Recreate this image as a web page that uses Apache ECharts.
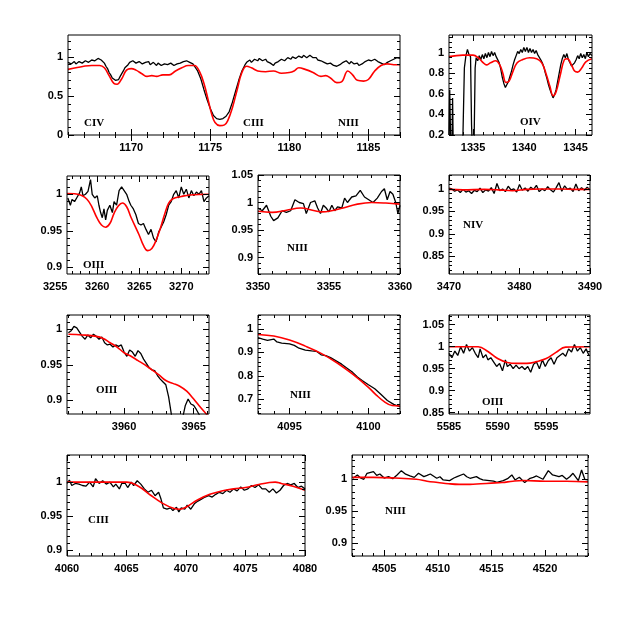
<!DOCTYPE html>
<html><head><meta charset="utf-8">
<script src="https://cdn.jsdelivr.net/npm/echarts@6/dist/echarts.min.js"></script>
<style>html,body{margin:0;padding:0;background:#fff}#c{width:623px;height:623px}</style>
</head><body><div id="c"></div><script>
// ---------- DATA ----------
const p1Obs = [[1166.0,0.93],[1166.1,0.95],[1166.2,0.91],[1166.3,0.93],[1166.4,0.94],[1166.5,0.91],[1166.6,0.92],[1166.7,0.94],[1166.8,0.95],[1166.9,0.92],[1167.0,0.93],[1167.1,0.95],[1167.2,0.96],[1167.3,0.93],[1167.4,0.94],[1167.5,0.96],[1167.6,0.97],[1167.7,0.95],[1167.8,0.96],[1167.9,0.98],[1168.0,0.98],[1168.1,0.96],[1168.2,0.95],[1168.3,0.92],[1168.4,0.88],[1168.5,0.85],[1168.6,0.80],[1168.7,0.77],[1168.8,0.73],[1168.9,0.72],[1169.0,0.70],[1169.1,0.72],[1169.2,0.71],[1169.3,0.75],[1169.4,0.77],[1169.5,0.82],[1169.6,0.86],[1169.7,0.88],[1169.8,0.90],[1169.9,0.93],[1170.0,0.92],[1170.1,0.95],[1170.2,0.94],[1170.3,0.92],[1170.4,0.91],[1170.5,0.94],[1170.6,0.93],[1170.7,0.91],[1170.8,0.90],[1170.9,0.93],[1171.0,0.92],[1171.1,0.94],[1171.2,0.90],[1171.3,0.92],[1171.4,0.93],[1171.5,0.91],[1171.6,0.89],[1171.7,0.92],[1171.8,0.91],[1171.9,0.89],[1172.0,0.88],[1172.1,0.91],[1172.2,0.92],[1172.3,0.90],[1172.4,0.89],[1172.5,0.92],[1172.6,0.91],[1172.7,0.89],[1172.8,0.88],[1172.9,0.91],[1173.0,0.90],[1173.1,0.92],[1173.2,0.91],[1173.3,0.94],[1173.4,0.93],[1173.5,0.95],[1173.6,0.95],[1173.7,0.93],[1173.8,0.92],[1173.9,0.91],[1174.0,0.88],[1174.1,0.86],[1174.2,0.82],[1174.4,0.72],[1174.6,0.58],[1174.8,0.45],[1175.0,0.34],[1175.2,0.25],[1175.4,0.21],[1175.6,0.20],[1175.8,0.21],[1176.0,0.24],[1176.2,0.30],[1176.4,0.42],[1176.6,0.56],[1176.8,0.70],[1177.0,0.82],[1177.2,0.90],[1177.3,0.93],[1177.4,0.94],[1177.5,0.96],[1177.6,0.93],[1177.7,0.95],[1177.8,0.97],[1177.9,0.96],[1178.0,0.95],[1178.1,0.98],[1178.2,0.98],[1178.3,0.95],[1178.4,0.96],[1178.5,0.97],[1178.6,0.94],[1178.7,0.93],[1178.8,0.92],[1178.9,0.90],[1179.0,0.89],[1179.1,0.92],[1179.2,0.91],[1179.3,0.94],[1179.4,0.95],[1179.5,0.97],[1179.6,0.98],[1179.7,0.95],[1179.8,0.96],[1179.9,0.99],[1180.0,0.99],[1180.1,0.97],[1180.2,1.00],[1180.3,1.01],[1180.4,0.98],[1180.5,1.00],[1180.6,1.01],[1180.7,0.99],[1180.8,0.99],[1180.9,1.02],[1181.0,1.03],[1181.1,0.99],[1181.2,1.00],[1181.3,1.02],[1181.4,1.01],[1181.5,0.99],[1181.6,0.98],[1181.7,0.99],[1181.8,0.96],[1181.9,0.97],[1182.0,0.95],[1182.1,0.94],[1182.2,0.93],[1182.3,0.94],[1182.4,0.91],[1182.5,0.93],[1182.6,0.92],[1182.7,0.90],[1182.8,0.89],[1182.9,0.91],[1183.0,0.88],[1183.1,0.89],[1183.2,0.90],[1183.3,0.92],[1183.4,0.93],[1183.5,0.92],[1183.6,0.95],[1183.7,0.93],[1183.8,0.91],[1183.9,0.94],[1184.0,0.93],[1184.1,0.91],[1184.2,0.90],[1184.3,0.92],[1184.4,0.89],[1184.5,0.90],[1184.6,0.91],[1184.7,0.93],[1184.8,0.94],[1184.9,0.93],[1185.0,0.96],[1185.1,0.94],[1185.2,0.95],[1185.3,0.97],[1185.4,0.97],[1185.5,0.95],[1185.6,0.94],[1185.7,0.95],[1185.8,0.92],[1185.9,0.93],[1186.0,0.90],[1186.1,0.92],[1186.2,0.93],[1186.3,0.91],[1186.4,0.95],[1186.5,0.94],[1186.6,0.97],[1186.7,0.96],[1186.8,0.99],[1186.9,0.97],[1187.0,0.98]];
const p1Model = [[1166,0.84],[1166.5,0.86],[1167,0.88],[1167.5,0.89],[1168,0.89],[1168.3,0.86],[1168.6,0.76],[1168.9,0.66],[1169.1,0.65],[1169.4,0.72],[1169.7,0.83],[1170,0.85],[1170.3,0.83],[1170.7,0.78],[1171,0.75],[1171.3,0.76],[1171.6,0.75],[1172,0.77],[1172.4,0.77],[1172.8,0.82],[1173.2,0.86],[1173.6,0.89],[1174,0.89],[1174.3,0.82],[1174.6,0.66],[1174.9,0.42],[1175.1,0.26],[1175.3,0.16],[1175.6,0.12],[1175.9,0.13],[1176.1,0.18],[1176.4,0.35],[1176.7,0.58],[1177,0.80],[1177.3,0.88],[1177.6,0.86],[1178,0.82],[1178.5,0.81],[1179,0.82],[1179.5,0.79],[1180,0.80],[1180.3,0.82],[1180.6,0.86],[1181,0.84],[1181.5,0.80],[1182,0.75],[1182.3,0.76],[1182.6,0.73],[1183,0.67],[1183.3,0.68],[1183.7,0.82],[1184,0.77],[1184.3,0.70],[1184.7,0.69],[1185,0.71],[1185.4,0.82],[1185.8,0.89],[1186.2,0.91],[1186.6,0.90],[1187,0.90]];

const p2Obs = [[1332.65,0.2],[1332.72,0.64],[1332.8,0.2],[1332.95,0.18],[1333.0,0.56],[1333.05,0.18],[1334.0,0.15],[1334.15,0.85],[1334.3,0.97],[1334.45,1.03],[1334.6,0.98],[1334.75,0.96],[1334.85,0.3],[1334.9,0.15],[1335.1,0.15],[1335.2,0.85],[1335.3,0.95],[1335.45,0.92],[1335.6,0.97],[1335.75,0.93],[1335.9,0.98],[1336.05,0.94],[1336.2,0.99],[1336.35,0.95],[1336.5,1.0],[1336.65,0.96],[1336.8,1.01],[1336.95,0.97],[1337.1,1.0],[1337.25,0.96],[1337.4,0.97],[1337.55,0.9],[1337.7,0.84],[1337.85,0.76],[1338.0,0.7],[1338.15,0.66],[1338.3,0.69],[1338.45,0.72],[1338.6,0.77],[1338.75,0.82],[1338.9,0.88],[1339.05,0.93],[1339.2,0.97],[1339.35,1.01],[1339.5,0.99],[1339.65,1.03],[1339.8,1.0],[1339.95,1.05],[1340.1,1.01],[1340.25,1.05],[1340.4,1.0],[1340.55,1.04],[1340.7,1.0],[1340.85,1.03],[1341.0,0.99],[1341.15,1.02],[1341.3,0.98],[1341.45,0.97],[1341.6,0.93],[1341.75,0.9],[1341.9,0.86],[1342.05,0.8],[1342.2,0.75],[1342.35,0.69],[1342.5,0.64],[1342.65,0.6],[1342.8,0.56],[1342.95,0.59],[1343.1,0.64],[1343.25,0.72],[1343.4,0.8],[1343.55,0.88],[1343.7,0.94],[1343.85,0.98],[1344.0,0.95],[1344.15,0.99],[1344.3,0.93],[1344.45,0.9],[1344.6,0.87],[1344.75,0.86],[1344.9,0.9],[1345.05,0.93],[1345.2,0.97],[1345.35,0.94],[1345.5,0.99],[1345.65,0.95],[1345.8,0.98],[1345.95,0.94],[1346.1,1.0],[1346.25,0.96],[1346.4,0.99],[1346.6,0.97]];
const p2Model = [[1332.65,0.96],[1334,0.975],[1335,0.975],[1335.5,0.95],[1336,0.9],[1336.3,0.88],[1336.7,0.9],[1337.2,0.92],[1337.6,0.88],[1337.9,0.8],[1338.2,0.71],[1338.5,0.72],[1338.9,0.82],[1339.3,0.9],[1339.8,0.93],[1340.5,0.95],[1341.2,0.94],[1341.7,0.9],[1342.1,0.8],[1342.5,0.67],[1342.8,0.58],[1343.1,0.62],[1343.5,0.78],[1343.9,0.93],[1344.2,0.94],[1344.6,0.88],[1344.9,0.82],[1345.2,0.81],[1345.6,0.85],[1346.0,0.91],[1346.6,0.94]];

const p3Obs = [[3256.5,0.995],[3256.8,0.985],[3257.0,0.993],[3257.3,0.99],[3257.6,0.996],[3257.9,1.002],[3258.1,1.01],[3258.3,0.998],[3258.6,1.0],[3258.9,1.004],[3259.2,1.02],[3259.4,1.0],[3259.7,0.995],[3260.0,0.998],[3260.2,0.985],[3260.4,0.975],[3260.6,0.968],[3260.8,0.98],[3261.0,0.965],[3261.2,0.978],[3261.5,0.985],[3261.8,0.975],[3262.0,0.99],[3262.3,0.985],[3262.6,1.005],[3262.9,1.01],[3263.2,1.005],[3263.5,1.0],[3263.8,0.99],[3264.0,0.985],[3264.3,0.98],[3264.6,0.972],[3264.9,0.96],[3265.2,0.958],[3265.5,0.96],[3265.8,0.952],[3266.1,0.945],[3266.4,0.952],[3266.7,0.94],[3267.0,0.935],[3267.3,0.948],[3267.6,0.955],[3267.9,0.962],[3268.2,0.972],[3268.5,0.985],[3268.8,0.99],[3269.1,1.0],[3269.4,1.005],[3269.7,0.995],[3270.0,1.01],[3270.3,1.0],[3270.6,1.007],[3270.9,0.995],[3271.2,1.005],[3271.5,0.998],[3271.8,1.003],[3272.1,1.0],[3272.4,1.005],[3272.7,0.99],[3273.0,0.995],[3273.3,0.998]];
const p3Model = [[3256.4,1.001],[3258,0.999],[3259,0.99],[3260,0.967],[3260.5,0.958],[3261,0.955],[3261.5,0.96],[3262,0.974],[3262.5,0.984],[3263,0.988],[3263.5,0.983],[3264,0.969],[3265,0.944],[3265.5,0.93],[3266,0.923],[3266.5,0.926],[3267,0.937],[3267.5,0.953],[3268,0.972],[3268.5,0.988],[3269,0.994],[3270,0.997],[3271,0.999],[3273.3,1.0]];

const p4Obs = [[3350.0,0.99],[3350.3,0.985],[3350.6,0.995],[3350.9,0.975],[3351.1,0.967],[3351.4,0.972],[3351.7,0.985],[3352.0,0.982],[3352.3,0.985],[3352.6,1.005],[3352.9,1.0],[3353.2,0.998],[3353.4,0.98],[3353.7,1.0],[3354.0,1.003],[3354.2,0.99],[3354.4,0.98],[3354.6,0.995],[3354.8,0.99],[3355.0,0.983],[3355.2,0.995],[3355.4,0.985],[3355.6,0.992],[3355.9,0.99],[3356.1,1.008],[3356.3,1.0],[3356.6,1.01],[3356.9,1.012],[3357.2,1.022],[3357.5,1.01],[3357.8,1.005],[3358.1,1.0],[3358.4,1.008],[3358.7,1.02],[3358.9,1.025],[3359.1,1.005],[3359.3,1.02],[3359.5,1.015],[3359.7,1.0],[3359.85,0.98],[3360.0,0.995]];
const p4Model = [[3350,0.984],[3351,0.982],[3352,0.986],[3353,0.99],[3354,0.985],[3354.5,0.983],[3355,0.984],[3356,0.99],[3357,0.997],[3358,1.0],[3359,0.999],[3360,0.997]];

const p5Obs = [[3470.0,1.002],[3470.4,1.0],[3470.8,0.995],[3471.2,0.998],[3471.6,0.992],[3472.0,0.999],[3472.4,0.993],[3472.8,0.996],[3473.2,0.99],[3473.6,0.997],[3474.0,0.994],[3474.4,1.002],[3474.8,0.992],[3475.2,0.998],[3475.6,0.995],[3476.0,1.003],[3476.4,0.99],[3476.8,1.012],[3477.2,0.996],[3477.6,1.0],[3478.0,0.994],[3478.4,1.006],[3478.8,0.998],[3479.2,1.0],[3479.6,0.993],[3480.0,1.01],[3480.4,0.997],[3480.8,1.002],[3481.2,0.995],[3481.6,1.004],[3482.0,0.999],[3482.4,1.008],[3482.8,0.994],[3483.2,1.0],[3483.6,0.996],[3484.0,1.005],[3484.4,0.998],[3484.8,0.993],[3485.2,1.003],[3485.6,1.014],[3486.0,0.995],[3486.4,1.007],[3486.8,0.999],[3487.2,1.002],[3487.6,0.994],[3488.0,1.011],[3488.4,0.996],[3488.8,1.003],[3489.2,0.997],[3489.6,1.004],[3490.0,0.998]];
const p5Model = [[3470,0.999],[3472,0.998],[3475,0.999],[3477,0.998],[3479,0.996],[3481,0.999],[3483,1.0],[3486,1.0],[3488,0.999],[3490,0.999]];

const p6Obs = [[3956.0,0.995],[3956.2,0.998],[3956.4,1.004],[3956.6,1.002],[3956.8,0.996],[3957.0,0.99],[3957.2,0.986],[3957.4,0.992],[3957.6,0.988],[3957.8,0.993],[3958.0,0.99],[3958.2,0.986],[3958.4,0.989],[3958.6,0.981],[3958.8,0.978],[3959.0,0.979],[3959.2,0.975],[3959.4,0.978],[3959.6,0.976],[3959.8,0.978],[3960.0,0.968],[3960.2,0.962],[3960.4,0.971],[3960.6,0.968],[3960.8,0.962],[3961.0,0.97],[3961.2,0.966],[3961.4,0.958],[3961.6,0.952],[3961.8,0.946],[3962.0,0.943],[3962.2,0.942],[3962.4,0.935],[3962.6,0.93],[3962.8,0.926],[3963.0,0.922],[3963.2,0.905],[3963.4,0.88],[3963.6,0.86],[3963.8,0.84],[3964.0,0.85],[3964.2,0.875],[3964.4,0.893],[3964.6,0.902],[3964.8,0.895],[3965.0,0.893],[3965.2,0.887],[3965.4,0.88],[3965.6,0.87],[3965.8,0.86]];
const p6Model = [[3956,0.993],[3957,0.992],[3958,0.99],[3958.5,0.987],[3959,0.981],[3959.5,0.975],[3960,0.967],[3960.5,0.962],[3961,0.956],[3961.5,0.95],[3962,0.943],[3962.5,0.936],[3963,0.928],[3963.5,0.924],[3964,0.92],[3964.5,0.913],[3965,0.902],[3965.5,0.89],[3966,0.879]];

const p7Obs = [[4093.0,0.963],[4093.3,0.957],[4093.6,0.952],[4094.0,0.957],[4094.2,0.945],[4094.5,0.94],[4095.0,0.937],[4095.3,0.93],[4095.6,0.918],[4096.0,0.91],[4096.4,0.907],[4096.7,0.905],[4097.0,0.89],[4097.3,0.886],[4097.6,0.878],[4098.0,0.862],[4098.3,0.85],[4098.6,0.835],[4099.0,0.815],[4099.3,0.795],[4099.6,0.78],[4100.0,0.762],[4100.4,0.745],[4100.8,0.72],[4101.2,0.695],[4101.6,0.678],[4102.0,0.668]];
const p7Model = [[4093,0.977],[4094,0.97],[4095,0.953],[4096,0.927],[4097,0.896],[4098,0.856],[4099,0.807],[4100,0.751],[4100.5,0.718],[4101,0.69],[4101.5,0.673],[4102,0.671]];

const p8Obs = [[5585.0,0.985],[5585.3,0.975],[5585.6,0.99],[5585.9,0.98],[5586.2,1.0],[5586.5,0.985],[5586.8,1.005],[5587.1,0.99],[5587.4,0.998],[5587.7,0.985],[5588.0,0.975],[5588.2,0.995],[5588.5,0.975],[5588.8,0.982],[5589.0,0.97],[5589.3,0.975],[5589.6,0.965],[5589.9,0.955],[5590.2,0.962],[5590.5,0.945],[5590.8,0.97],[5591.0,0.955],[5591.3,0.96],[5591.6,0.95],[5591.9,0.958],[5592.2,0.95],[5592.5,0.955],[5592.8,0.948],[5593.1,0.955],[5593.4,0.942],[5593.7,0.96],[5594.0,0.965],[5594.3,0.95],[5594.6,0.97],[5594.9,0.955],[5595.2,0.968],[5595.5,0.975],[5595.8,0.96],[5596.1,0.975],[5596.4,0.98],[5596.7,0.985],[5597.0,0.978],[5597.3,0.995],[5597.6,0.988],[5597.9,1.005],[5598.2,0.99],[5598.5,0.998],[5598.8,0.985],[5599.1,0.995],[5599.4,0.98]];
const p8Model = [[5585,1.0],[5588,1.0],[5589,0.989],[5590,0.973],[5591,0.964],[5592,0.962],[5593,0.962],[5594,0.966],[5595,0.973],[5596,0.987],[5597,0.999],[5599.5,1.0]];

const p9Obs = [[4060.0,0.998],[4060.2,1.003],[4060.4,0.995],[4060.7,0.998],[4061.0,0.997],[4061.3,0.995],[4061.6,0.994],[4061.9,1.0],[4062.2,0.993],[4062.4,1.005],[4062.7,0.998],[4063.0,1.002],[4063.3,0.997],[4063.6,1.0],[4063.9,0.993],[4064.1,0.997],[4064.4,0.99],[4064.6,0.998],[4064.9,0.998],[4065.1,0.992],[4065.4,1.0],[4065.6,0.995],[4065.9,1.002],[4066.2,0.997],[4066.5,0.99],[4066.8,0.985],[4067.1,0.988],[4067.4,0.98],[4067.7,0.985],[4067.9,0.975],[4068.1,0.962],[4068.4,0.96],[4068.7,0.962],[4068.9,0.958],[4069.2,0.963],[4069.4,0.956],[4069.6,0.962],[4069.9,0.96],[4070.1,0.966],[4070.4,0.96],[4070.7,0.968],[4071.0,0.972],[4071.3,0.975],[4071.6,0.978],[4071.9,0.98],[4072.2,0.978],[4072.5,0.982],[4072.8,0.985],[4073.1,0.983],[4073.4,0.988],[4073.7,0.985],[4074.0,0.99],[4074.3,0.987],[4074.6,0.993],[4074.9,0.988],[4075.2,0.99],[4075.5,0.995],[4075.8,0.992],[4076.1,0.996],[4076.4,0.99],[4076.7,0.99],[4077.0,0.985],[4077.3,0.99],[4077.6,0.984],[4077.9,0.988],[4078.2,0.995],[4078.5,0.998],[4078.8,0.996],[4079.1,0.998],[4079.4,0.992],[4079.7,0.994],[4080.0,0.99]];
const p9Model = [[4060,1.0],[4065,1.0],[4066,0.994],[4067,0.981],[4068,0.969],[4069,0.961],[4069.5,0.96],[4070,0.963],[4071,0.974],[4072,0.982],[4073,0.987],[4074,0.99],[4075,0.992],[4076,0.996],[4077,0.9995],[4077.5,1.0],[4078,0.998],[4079,0.994],[4080,0.988]];

const p10Obs = [[4502.1,1.0016],[4502.5,1.0068],[4502.8,1.002],[4503.1,1.0],[4503.4,1.0094],[4504.0,1.012],[4504.3,1.006],[4504.6,1.0083],[4505.0,1.002],[4505.4,1.0042],[4505.8,1.001],[4506.2,1.0068],[4506.6,1.0135],[4507.0,1.008],[4507.4,1.0052],[4507.8,1.003],[4508.2,1.0094],[4508.7,1.0042],[4509.0,1.006],[4509.3,1.0083],[4509.9,1.0016],[4510.2,1.004],[4510.5,0.999],[4511.1,0.998],[4511.5,1.002],[4511.8,1.0042],[4512.4,1.0083],[4512.7,1.004],[4513.0,1.0016],[4513.6,1.0042],[4513.9,1.001],[4514.2,0.999],[4514.8,0.998],[4515.2,0.997],[4515.5,0.9953],[4516.1,0.998],[4516.5,1.001],[4516.9,1.0068],[4517.2,0.999],[4517.6,1.0031],[4518.1,0.9948],[4518.6,1.0016],[4518.9,1.003],[4519.2,1.0052],[4519.8,1.0],[4520.3,1.0135],[4520.7,1.0068],[4521.3,1.0042],[4521.6,1.006],[4522.0,1.0],[4522.3,1.004],[4522.6,1.0094],[4523.1,0.998],[4523.4,1.0146],[4523.7,1.0],[4524.0,0.999]];
const p10Model = [[4502,1.003],[4504,1.003],[4506,1.002],[4508,1.0],[4509,0.997],[4510,0.995],[4511,0.993],[4512,0.992],[4513,0.992],[4514,0.993],[4515,0.994],[4516,0.995],[4517,0.997],[4518,0.998],[4520,0.997],[4522,0.997],[4524,0.996]];

// tick label values
const p1XTicks = [1170,1175,1180,1185];      const p1YTicks = [0,0.5,1];
const p2XTicks = [1335,1340,1345];           const p2YTicks = [0.2,0.4,0.6,0.8,1];
const p3XTicks = [3255,3260,3265,3270];      const p3YTicks = [0.9,0.95,1];
const p4XTicks = [3350,3355,3360];           const p4YTicks = [0.9,0.95,1,1.05];
const p5XTicks = [3470,3480,3490];           const p5YTicks = [0.85,0.9,0.95,1];
const p6XTicks = [3960,3965];                const p6YTicks = [0.9,0.95,1];
const p7XTicks = [4095,4100];                const p7YTicks = [0.7,0.8,0.9,1];
const p8XTicks = [5585,5590,5595];           const p8YTicks = [0.85,0.9,0.95,1,1.05];
const p9XTicks = [4060,4065,4070,4075,4080]; const p9YTicks = [0.9,0.95,1];
const p10XTicks = [4505,4510,4515,4520];     const p10YTicks = [0.9,0.95,1];

const lineNames = ['CIV','CIII','NIII','OIV','OIII','NIII','NIV','OIII','NIII','OIII','CIII','NIII'];

// ---------- LAYOUT ----------
const panels = [
  {box:[68,35,332,100],  x:[1166,1187],     y:[0,1.28],     xt:p1XTicks, yt:p1YTicks, xm:1, ym:0.1,  obs:p1Obs, mod:p1Model,
   labels:[[0,84,118],[1,243,118],[2,338,118]]},
  {box:[449,35,143,100], x:[1332.65,1346.6], y:[0.2,1.17],  xt:p2XTicks, yt:p2YTicks, xm:1, ym:0.05, obs:p2Obs, mod:p2Model, labels:[[3,520,117]]},
  {box:[67,176,142,98],  x:[3256.4,3273.3], y:[0.891,1.025], xt:p3XTicks, yt:p3YTicks, xm:1, ym:0.01, obs:p3Obs, mod:p3Model, labels:[[4,83,260]]},
  {box:[258,175,142,99], x:[3350,3360],     y:[0.87,1.05],  xt:p4XTicks, yt:p4YTicks, xm:1, ym:0.01, obs:p4Obs, mod:p4Model, labels:[[5,287,243]]},
  {box:[449,175,141,99], x:[3470,3490],     y:[0.811,1.031], xt:p5XTicks, yt:p5YTicks, xm:2, ym:0.01, obs:p5Obs, mod:p5Model, labels:[[6,463,220]]},
  {box:[67,315,142,99],  x:[3955.9,3966.1], y:[0.881,1.02], xt:p6XTicks, yt:p6YTicks, xm:1, ym:0.01, obs:p6Obs, mod:p6Model, labels:[[7,96,385]]},
  {box:[258,315,142,99], x:[4093,4102],     y:[0.637,1.06], xt:p7XTicks, yt:p7YTicks, xm:1, ym:0.02, obs:p7Obs, mod:p7Model, labels:[[8,290,390]]},
  {box:[449,315,141,99], x:[5585,5599.5],   y:[0.847,1.072], xt:p8XTicks, yt:p8YTicks, xm:1, ym:0.01, obs:p8Obs, mod:p8Model, labels:[[9,482,397]]},
  {box:[67,455,238,101], x:[4060,4080],     y:[0.891,1.04], xt:p9XTicks, yt:p9YTicks, xm:1, ym:0.01, obs:p9Obs, mod:p9Model, labels:[[10,88,515]]},
  {box:[352,455,236,101],x:[4502,4524],     y:[0.88,1.038], xt:p10XTicks, yt:p10YTicks, xm:1, ym:0.01, obs:p10Obs, mod:p10Model, labels:[[11,385,506]]}
];

function steps(min, max, step){
  const out=[]; const s=Math.ceil(min/step-1e-9);
  for(let i=s; i*step<=max+1e-9; i++) out.push(+(i*step).toFixed(6));
  return out;
}
const tickFont = {color:'#000', fontFamily:'Liberation Sans, Arial, sans-serif', fontWeight:'bold', fontSize:11};
function inside(v, r){ return v>=r[0]-1e-9 && v<=r[1]+1e-9; }

const option = {animation:false, backgroundColor:'#fff', grid:[], xAxis:[], yAxis:[], series:[], graphic:[]};

panels.forEach((p) => {
  const g0 = option.grid.length;
  const gridBase = {left:p.box[0], top:p.box[1], width:p.box[2], height:p.box[3], containLabel:false};
  option.grid.push(Object.assign({}, gridBase, {show:true, borderColor:'#000', borderWidth:1, backgroundColor:'transparent', z:5}));
  option.grid.push(Object.assign({}, gridBase, {show:false}));
  const xMajor = p.xt.filter(v=>inside(v,p.x));
  const yMajor = p.yt.filter(v=>inside(v,p.y));
  const xMinor = steps(p.x[0], p.x[1], p.xm);
  const yMinor = steps(p.y[0], p.y[1], p.ym);
  p.xOutside = p.xt.filter(v=>!inside(v,p.x));
  const mk = (isX, grid, pos, vals, len, showLabel) => ({
    type:'value', gridIndex:grid, position:pos,
    min: isX ? p.x[0] : p.y[0], max: isX ? p.x[1] : p.y[1],
    axisLine:{show:false}, splitLine:{show:false},
    axisTick:{show:true, inside:true, length:len, customValues:vals, lineStyle:{color:'#000', width:1}},
    axisLabel:{show:showLabel, customValues:vals, margin: isX ? 7 : 5, formatter:(v)=>String(+v.toFixed(4)), ...tickFont},
    z:6
  });
  const xi = option.xAxis.length, yi = option.yAxis.length;
  option.xAxis.push(mk(true, g0, 'bottom', xMajor, 6, true));
  option.xAxis.push(mk(true, g0, 'top', xMajor, 6, false));
  option.xAxis.push(mk(true, g0+1, 'bottom', xMinor, 3, false));
  option.xAxis.push(mk(true, g0+1, 'top', xMinor, 3, false));
  option.yAxis.push(mk(false, g0, 'left', yMajor, 6, true));
  option.yAxis.push(mk(false, g0, 'right', yMajor, 6, false));
  option.yAxis.push(mk(false, g0+1, 'left', yMinor, 3, false));
  option.yAxis.push(mk(false, g0+1, 'right', yMinor, 3, false));
  p.xi = xi; p.yi = yi;
  option.series.push({type:'line', xAxisIndex:xi, yAxisIndex:yi, data:p.obs, showSymbol:false, symbol:'none', clip:true,
    lineStyle:{color:'#000', width:1.3}, z:3});
  option.series.push({type:'line', xAxisIndex:xi, yAxisIndex:yi, data:p.mod, showSymbol:false, symbol:'none', clip:true, smooth:0.4,
    lineStyle:{color:'#ff0000', width:1.6}, z:4});
  p.labels.forEach(l => {
    option.graphic.push({type:'text', left:l[1], top:l[2], z:10,
      style:{text:lineNames[l[0]], fill:'#000', font:'bold 11px "Liberation Serif", serif'}});
  });
});

const chart = echarts.init(document.getElementById('c'), null, {renderer:'canvas'});
chart.setOption(option);
// tick labels that fall just outside an axis range, placed through the axis scale
const extra = [];
panels.forEach(p => {
  p.xOutside.forEach(v => {
    const px = chart.convertToPixel({xAxisIndex:p.xi}, v);
    if (px >= p.box[0]-20 && px <= p.box[0]+p.box[2]+20) {
      extra.push({type:'text', x:px, y:p.box[1]+p.box[3]+7, z:10,
        style:{text:String(v), fill:'#000', font:'bold 11px "Liberation Sans", Arial, sans-serif', align:'center', verticalAlign:'top'}});
    }
  });
});
if (extra.length) chart.setOption({graphic: option.graphic.concat(extra)});
</script></body></html>
